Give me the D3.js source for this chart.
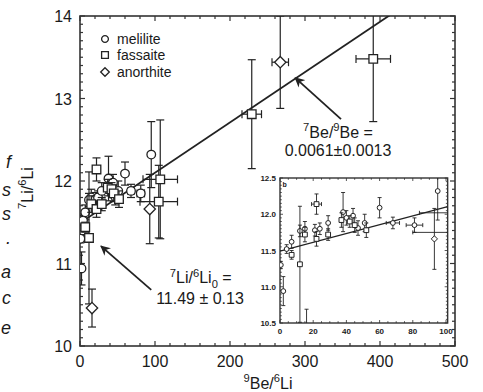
<!DOCTYPE html>
<html>
<head>
<meta charset="utf-8">
<script src="https://cdn.jsdelivr.net/npm/d3@7"></script>
<style>
  body { margin: 0; background: #fff; }
  svg text { font-family: Arial, "Liberation Sans", Helvetica, sans-serif; fill: #1a1a1a; }
</style>
</head>
<body>
<svg id="chart" width="483" height="392"></svg>
<script>
// Each point: [9Be/6Li, 7Li/6Li, error on 7Li/6Li, error on 9Be/6Li]
const melilite = [
  [0.5, 11.30, 0.05, 0],
  [2, 10.94, 0.2, 0],
  [4, 11.52, 0.06, 0],
  [7, 11.62, 0.09, 0],
  [12, 11.77, 0.08, 0],
  [15, 11.80, 0.1, 0],
  [21, 11.78, 0.08, 0],
  [24, 11.80, 0.08, 0],
  [29, 11.88, 0.1, 0],
  [38, 12.03, 0.27, 0],
  [40, 11.95, 0.1, 0],
  [44, 11.98, 0.1, 0],
  [47, 11.81, 0.1, 0],
  [51, 11.88, 0.12, 0],
  [60, 12.09, 0.14, 0],
  [68, 11.88, 0.08, 4],
  [81, 11.85, 0.1, 5],
  [95, 12.32, 0.4, 0]
];
const fassaite = [
  [7, 11.44, 0.06, 0],
  [12, 11.31, 0.8, 0],
  [15, 11.72, 0.1, 0],
  [22, 11.66, 0.1, 0],
  [22, 12.14, 0.14, 3],
  [29, 11.72, 0.08, 0],
  [37, 11.92, 0.1, 0],
  [42, 11.90, 0.08, 0],
  [45, 11.85, 0.1, 0],
  [52, 11.78, 0.1, 0],
  [105, 11.75, 0.44, 25],
  [107, 12.02, 0.72, 23],
  [229, 12.81, 0.66, 13],
  [391, 13.48, 0.76, 23]
];
const anorthite = [
  [16, 10.46, 0.23, 0],
  [93, 11.66, 0.42, 0],
  [267, 13.44, 0.56, 11]
];
const xTicks = [0, 100, 200, 300, 400, 500];
const yTicks = [10, 11, 12, 13, 14];
const insetXTicks = [0, 20, 40, 60, 80, 100];
const insetYTicks = [10.5, 11.0, 11.5, 12.0, 12.5];
// isochron: 7Li/6Li = 7Li/6Li0 + (7Be/9Be) * 9Be/6Li
const liInitial = 11.49;
const beRatio = 0.0061;

const svg = d3.select("#chart");
const ink = "#222";

// writes text with superscript / subscript pieces
function rich(sel, parts, size) {
  let shift = 0;
  parts.forEach(p => {
    const target = p.sup ? -0.42 * size : p.sub ? 0.28 * size : 0;
    sel.append("tspan")
      .attr("dy", target - shift)
      .attr("font-size", (p.sup || p.sub) ? size * 0.7 : size)
      .text(p.t);
    shift = target;
  });
  return sel;
}

function markerPath(kind, s) {
  if (kind === "circle") return d3.symbol(d3.symbolCircle, Math.PI * s * s)();
  if (kind === "square") return `M${-s},${-s}H${s}V${s}H${-s}Z`;
  const d = s * 1.35;
  return `M0,${-d}L${d},0L0,${d}L${-d},0Z`;
}

function drawPoints(g, data, kind, x, y, o) {
  const bars = g.append("g").attr("stroke", ink).attr("stroke-width", o.bw).attr("fill", "none");
  data.forEach(d => {
    const [px, py, ey, ex] = d;
    if (ey > 0) {
      bars.append("line").attr("x1", x(px)).attr("x2", x(px)).attr("y1", y(py - ey)).attr("y2", y(py + ey));
      [py - ey, py + ey].forEach(v => bars.append("line")
        .attr("x1", x(px) - o.cap).attr("x2", x(px) + o.cap).attr("y1", y(v)).attr("y2", y(v)));
    }
    if (ex > 0) {
      bars.append("line").attr("x1", x(px - ex)).attr("x2", x(px + ex)).attr("y1", y(py)).attr("y2", y(py));
      [px - ex, px + ex].forEach(v => bars.append("line")
        .attr("x1", x(v)).attr("x2", x(v)).attr("y1", y(py) - o.cap).attr("y2", y(py) + o.cap));
    }
  });
  g.append("g").selectAll("path").data(data).join("path")
    .attr("d", markerPath(kind, o.size))
    .attr("transform", d => `translate(${x(d[0])},${y(d[1])})`)
    .attr("fill", "#fff").attr("stroke", ink).attr("stroke-width", o.mw);
}

// ---------- main panel ----------
const x = d3.scaleLinear().domain([0, 500]).range([80, 455]);
const y = d3.scaleLinear().domain([10, 14]).range([346, 16]);

svg.append("defs").append("clipPath").attr("id", "mainClip")
  .append("rect").attr("x", x(0)).attr("y", y(14)).attr("width", x(500) - x(0)).attr("height", y(10) - y(14));

// minor/major ticks on all four sides, pointing inward
const frame = svg.append("g").attr("stroke", "#333").attr("fill", "none");
const xMinor = d3.range(0, 501, 20);
const yMinor = d3.range(100, 141, 1).map(v => v / 10);
xMinor.forEach(v => {
  const len = v % 100 === 0 ? 5 : 3;
  frame.append("line").attr("x1", x(v)).attr("x2", x(v)).attr("y1", y(10)).attr("y2", y(10) - len).attr("stroke-width", 1.2);
  frame.append("line").attr("x1", x(v)).attr("x2", x(v)).attr("y1", y(14)).attr("y2", y(14) + len).attr("stroke-width", 1.2);
});
yMinor.forEach(v => {
  const len = Math.abs(v - Math.round(v)) < 1e-6 ? 5 : 3;
  frame.append("line").attr("x1", x(0)).attr("x2", x(0) + len).attr("y1", y(v)).attr("y2", y(v)).attr("stroke-width", 1.2);
  frame.append("line").attr("x1", x(500)).attr("x2", x(500) - len).attr("y1", y(v)).attr("y2", y(v)).attr("stroke-width", 1.2);
});
frame.append("rect").attr("x", x(0)).attr("y", y(14)).attr("width", x(500) - x(0)).attr("height", y(10) - y(14))
  .attr("stroke-width", 1.6);

svg.append("g").selectAll("text").data(xTicks).join("text")
  .attr("x", d => x(d)).attr("y", 367).attr("text-anchor", "middle").attr("font-size", 16)
  .text(d => d);
svg.append("g").selectAll("text").data(yTicks).join("text")
  .attr("x", x(0) - 8).attr("y", d => y(d) + 6).attr("text-anchor", "end").attr("font-size", 16)
  .text(d => d);

rich(svg.append("text").attr("x", 268).attr("y", 389).attr("text-anchor", "middle").attr("font-size", 16),
  [{ t: "9", sup: true }, { t: "Be/" }, { t: "6", sup: true }, { t: "Li" }], 16);
rich(svg.append("text").attr("transform", "translate(33,188) rotate(-90)").attr("text-anchor", "middle").attr("font-size", 16),
  [{ t: "7", sup: true }, { t: "Li/" }, { t: "6", sup: true }, { t: "Li" }], 16);

// isochron in the main panel
const mainLine = d3.line().x(d => x(d)).y(d => y(liInitial + beRatio * d));
svg.append("path").attr("clip-path", "url(#mainClip)")
  .attr("d", mainLine([0, 500])).attr("fill", "none").attr("stroke", ink).attr("stroke-width", 1.8);

const mainG = svg.append("g").attr("clip-path", "url(#mainClip)");
const mainStyle = { size: 4.3, cap: 4, bw: 1.2, mw: 1.3 };
drawPoints(mainG, melilite, "circle", x, y, mainStyle);
drawPoints(mainG, fassaite, "square", x, y, mainStyle);
drawPoints(mainG, anorthite, "diamond", x, y, { ...mainStyle, size: 4.2 });

// legend
const legend = svg.append("g");
[["circle", "melilite", 39], ["square", "fassaite", 55], ["diamond", "anorthite", 72]].forEach(([k, label, ly]) => {
  legend.append("path").attr("d", markerPath(k, k === "diamond" ? 3.2 : 3.4))
    .attr("transform", `translate(105,${ly})`).attr("fill", "#fff").attr("stroke", ink).attr("stroke-width", 1.3);
  legend.append("text").attr("x", 117).attr("y", ly + 4.5).attr("font-size", 14).text(label);
});

// annotations with arrows
const defs = svg.select("defs");
defs.append("marker").attr("id", "head").attr("viewBox", "0 0 10 10").attr("refX", 9).attr("refY", 5)
  .attr("markerWidth", 10).attr("markerHeight", 10).attr("markerUnits", "userSpaceOnUse").attr("orient", "auto")
  .append("path").attr("d", "M0,0L10,5L0,10L3,5Z").attr("fill", ink);

const arrows = [
  { from: [348, 12.75], to: [287, 13.25] },
  { from: [95, 10.68], to: [28, 11.21] }
];
arrows.forEach(a => svg.append("line")
  .attr("x1", x(a.from[0])).attr("y1", y(a.from[1])).attr("x2", x(a.to[0])).attr("y2", y(a.to[1]))
  .attr("stroke", ink).attr("stroke-width", 1.8).attr("marker-end", "url(#head)"));

rich(svg.append("text").attr("x", x(344)).attr("y", y(12.52)).attr("text-anchor", "middle").attr("font-size", 16),
  [{ t: "7", sup: true }, { t: "Be/" }, { t: "9", sup: true }, { t: "Be =" }], 16);
svg.append("text").attr("x", x(344)).attr("y", y(12.30)).attr("text-anchor", "middle").attr("font-size", 16)
  .text("0.0061\u00b10.0013");
rich(svg.append("text").attr("x", x(161)).attr("y", y(10.76)).attr("text-anchor", "middle").attr("font-size", 16),
  [{ t: "7", sup: true }, { t: "Li/" }, { t: "6", sup: true }, { t: "Li" }, { t: "0", sub: true }, { t: " =" }], 16);
svg.append("text").attr("x", x(160)).attr("y", y(10.51)).attr("text-anchor", "middle").attr("font-size", 16)
  .text("11.49 \u00b1 0.13");

// ---------- inset (0–100 enlargement) ----------
const xi = d3.scaleLinear().domain([0, 100]).range([280, 446]);
const yi = d3.scaleLinear().domain([10.5, 12.5]).range([323, 178]);
defs.append("clipPath").attr("id", "insetClip")
  .append("rect").attr("x", xi(0)).attr("y", yi(12.5)).attr("width", xi(101) - xi(0)).attr("height", yi(10.5) - yi(12.5));

const inset = svg.append("g");
inset.append("rect").attr("x", xi(0)).attr("y", yi(12.5)).attr("width", xi(101) - xi(0)).attr("height", yi(10.5) - yi(12.5))
  .attr("fill", "#fff");
const iFrame = inset.append("g").attr("stroke", "#444").attr("stroke-width", 0.9);
d3.range(0, 101, 5).forEach(v => {
  const len = v % 20 === 0 ? 3 : 1.8;
  iFrame.append("line").attr("x1", xi(v)).attr("x2", xi(v)).attr("y1", yi(10.5)).attr("y2", yi(10.5) - len);
  iFrame.append("line").attr("x1", xi(v)).attr("x2", xi(v)).attr("y1", yi(12.5)).attr("y2", yi(12.5) + len);
});
d3.range(1050, 1251, 5).map(v => v / 100).forEach(v => {
  const len = Math.abs(v * 2 - Math.round(v * 2)) < 1e-6 ? 3 : 1.8;
  iFrame.append("line").attr("x1", xi(0)).attr("x2", xi(0) + len).attr("y1", yi(v)).attr("y2", yi(v));
  iFrame.append("line").attr("x1", xi(101)).attr("x2", xi(101) - len).attr("y1", yi(v)).attr("y2", yi(v));
});
inset.append("rect").attr("x", xi(0)).attr("y", yi(12.5)).attr("width", xi(101) - xi(0)).attr("height", yi(10.5) - yi(12.5))
  .attr("fill", "none").attr("stroke", "#333").attr("stroke-width", 1.4);

inset.append("g").selectAll("text").data(insetXTicks).join("text")
  .attr("x", d => xi(d)).attr("y", 334).attr("text-anchor", "middle").attr("font-size", 8).attr("font-weight", "bold")
  .text(d => d);
inset.append("g").selectAll("text").data(insetYTicks).join("text")
  .attr("x", xi(0) - 4).attr("y", d => yi(d) + 3).attr("text-anchor", "end").attr("font-size", 8).attr("font-weight", "bold")
  .text(d => d.toFixed(1));
inset.append("text").attr("x", xi(1.5)).attr("y", yi(12.38)).attr("font-size", 7).attr("font-weight", "bold").text("b");

const insetG = inset.append("g").attr("clip-path", "url(#insetClip)");
insetG.append("path").attr("d", d3.line().x(d => xi(d)).y(d => yi(liInitial + beRatio * d))([0, 101]))
  .attr("fill", "none").attr("stroke", ink).attr("stroke-width", 1.3);
const insetStyle = { size: 2.4, cap: 2, bw: 0.9, mw: 1 };
drawPoints(insetG, melilite, "circle", xi, yi, insetStyle);
drawPoints(insetG, fassaite, "square", xi, yi, insetStyle);
drawPoints(insetG, anorthite, "diamond", xi, yi, { ...insetStyle, size: 2.3 });

// fragment of neighbouring italic text at the page edge
const frag = svg.append("g").attr("font-family", "'Liberation Serif', 'DejaVu Serif', serif")
  .attr("font-style", "italic").attr("font-size", 18).attr("fill", "#333");
[["f", 168], ["s", 196], ["s", 220], [".", 244], ["a", 278], ["c", 304], ["e", 334]].forEach(([ch, ty]) =>
  frag.append("text").attr("x", 11).attr("y", ty).attr("text-anchor", "end").text(ch));
</script>
</body>
</html>
